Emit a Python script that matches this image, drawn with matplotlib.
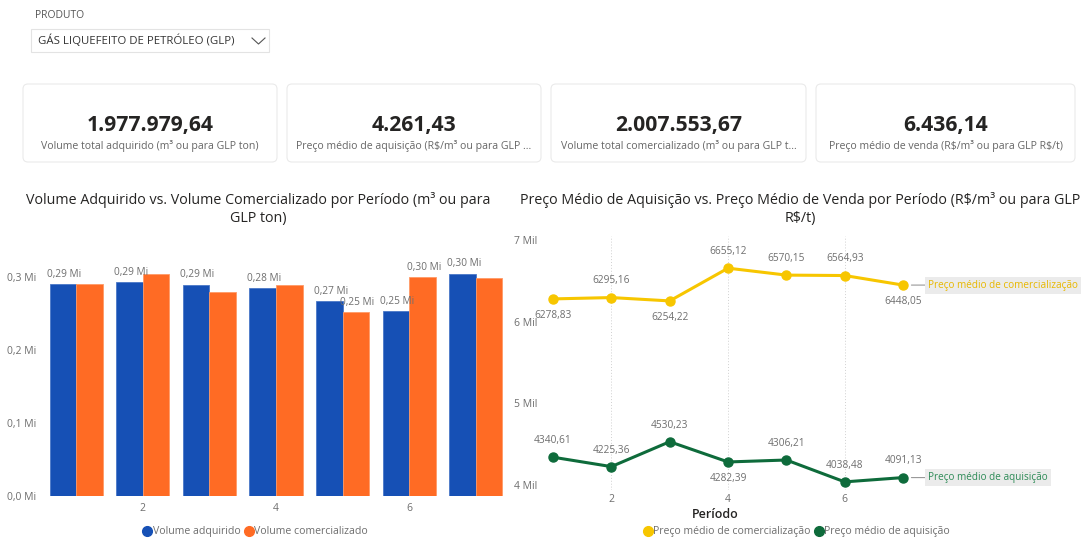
import matplotlib
matplotlib.use("Agg")
import matplotlib.pyplot as plt
from matplotlib.patches import FancyBboxPatch
from matplotlib.lines import Line2D

plt.rcParams['font.family'] = ['Open Sans', 'DejaVu Sans']
plt.rcParams['text.parse_math'] = False

# ---- dados ----
periodos = [1, 2, 3, 4, 5, 6, 7]
vol_adquirido = [0.290, 0.292, 0.289, 0.284, 0.267, 0.253, 0.304]
vol_comercializado = [0.290, 0.303, 0.279, 0.289, 0.251, 0.299, 0.298]
rotulo_adq = [True, True, True, True, True, True, True]
rotulo_com = [False, False, False, False, True, True, False]

preco_venda = [6278.83, 6295.16, 6254.22, 6655.12, 6570.15, 6564.93, 6448.05]
preco_aquisicao = [4340.61, 4225.36, 4530.23, 4282.39, 4306.21, 4038.48, 4091.13]
venda_acima = [False, True, False, True, True, True, False]
aquisicao_acima = [True, True, True, False, True, True, True]

kpi_valores = ['1.977.979,64', '4.261,43', '2.007.553,67', '6.436,14']
kpi_nomes = ['Volume total adquirido (m³ ou para GLP ton)',
             'Preço médio de aquisição (R$/m³ ou para GLP ...',
             'Volume total comercializado (m³ ou para GLP t...',
             'Preço médio de venda (R$/m³ ou para GLP R$/t)']

AZUL = '#1650B5'
LARANJA = '#FF6B24'
AMARELO = '#F7C600'
VERDE = '#0E6B3B'
CINZA = '#6E6E6E'
FS = 7.3

W, H = 1088, 542
fig = plt.figure(figsize=(W / 100, H / 100), dpi=100)
fig.patch.set_facecolor('white')


def ax_px(x0, y0, x1, y1):
    return fig.add_axes([x0 / W, 1 - y1 / H, (x1 - x0) / W, (y1 - y0) / H])


# fundo em pixels
bg = fig.add_axes([0, 0, 1, 1])
bg.set_xlim(0, W)
bg.set_ylim(H, 0)
bg.axis('off')

bg.text(35, 16, 'PRODUTO', fontsize=7.5, color='#555555', va='center')
bg.add_patch(FancyBboxPatch((31, 29), 238, 23, boxstyle='square,pad=0',
                            fc='white', ec='#E3E3E3', lw=0.8))
bg.text(38, 41, 'GÁS LIQUEFEITO DE PETRÓLEO (GLP)', fontsize=8.2, color='#333333', va='center')
bg.plot([252, 258.5, 265], [38, 44, 38], color='#555555', lw=0.8)

cards = [(23, 277), (287, 541), (551, 806), (816, 1075)]
for (x0, x1), val, nome in zip(cards, kpi_valores, kpi_nomes):
    bg.add_patch(FancyBboxPatch((x0, 84), x1 - x0, 78, boxstyle='round,pad=0,rounding_size=5',
                                fc='white', ec='#EAEAEA', lw=0.8))
    xc = (x0 + x1) / 2
    bg.text(xc, 125, val, fontsize=15.2, fontweight='bold', color='#252423', ha='center', va='center')
    bg.text(xc, 146, nome, fontsize=7.6, color='#666666', ha='center', va='center')

bg.text(258, 209, 'Volume Adquirido vs. Volume Comercializado por Período (m³ ou para\nGLP ton)',
        fontsize=10.3, color='#252423', ha='center', va='center', linespacing=1.2)
bg.text(800, 209, 'Preço Médio de Aquisição vs. Preço Médio de Venda por Período (R$/m³ ou para GLP\nR$/t)',
        fontsize=10.3, color='#252423', ha='center', va='center', linespacing=1.2)

# ---- barras ----
ax1 = ax_px(43, 240, 509, 496)
w = 0.4
x_a = [p - w / 2 for p in periodos]
x_c = [p + w / 2 for p in periodos]
ax1.bar(x_a, vol_adquirido, width=w, color=AZUL, ec='#4A78C8', lw=0.6, label='Volume adquirido')
ax1.bar(x_c, vol_comercializado, width=w, color=LARANJA, ec='#FF9A66', lw=0.6, label='Volume comercializado')
for xs, vs, flags in [(x_a, vol_adquirido, rotulo_adq), (x_c, vol_comercializado, rotulo_com)]:
    for x, v, f in zip(xs, vs, flags):
        if f:
            ax1.annotate(f'{v:.2f} Mi'.replace('.', ','), (x, v), xytext=(1, 3),
                         textcoords='offset points', ha='center', va='bottom',
                         fontsize=FS, color=CINZA)
ax1.set_xlim(0.5, 7.5)
ax1.set_ylim(0, 0.35)
ax1.set_yticks([0, 0.1, 0.2, 0.3])
ax1.set_yticklabels([f'{t:.1f} Mi'.replace('.', ',') for t in [0, 0.1, 0.2, 0.3]])
ax1.set_xticks([2, 4, 6])
ax1.tick_params(length=0, labelsize=7.5, labelcolor=CINZA, pad=5)
for s in ax1.spines.values():
    s.set_visible(False)
ax1.legend(handles=[Line2D([], [], marker='o', ls='', color=AZUL, ms=7),
                    Line2D([], [], marker='o', ls='', color=LARANJA, ms=7)],
           labels=['Volume adquirido', 'Volume comercializado'],
           loc='center', bbox_to_anchor=(0.455, -0.14), ncol=2, frameon=False,
           fontsize=7.6, labelcolor=CINZA, handletextpad=0.0, columnspacing=0.3,
           handlelength=1)

# ---- linhas ----
ax2 = ax_px(510, 236, 920, 490)
ax2.set_xlim(0.263, 7.29)
ax2.set_ylim(3939, 7049)
ax2.plot(periodos, preco_venda, color=AMARELO, lw=2.2, marker='o', ms=6.5)
ax2.plot(periodos, preco_aquisicao, color=VERDE, lw=2.2, marker='o', ms=6.5)
for vals, flags in [(preco_venda, venda_acima), (preco_aquisicao, aquisicao_acima)]:
    for p, v, f in zip(periodos, vals, flags):
        ax2.annotate(f'{v:.2f}'.replace('.', ','), (p, v), xytext=(0, 8 if f else -8),
                     textcoords='offset points', ha='center',
                     va='bottom' if f else 'top', fontsize=FS, color=CINZA)
for p in [2, 4, 6]:
    ax2.axvline(p, color='#D0D0D0', lw=0.7, ls=(0, (1, 2)), zorder=0)
ax2.set_yticks([4000, 5000, 6000, 7000])
ax2.set_yticklabels(['4 Mil', '5 Mil', '6 Mil', '7 Mil'])
ax2.set_xticks([2, 4, 6])
ax2.tick_params(length=0, labelsize=7.5, labelcolor=CINZA, pad=3)
ax2.tick_params(axis='y', direction='in', pad=-3)
for lab in ax2.get_yticklabels():
    lab.set_horizontalalignment('left')
for s in ax2.spines.values():
    s.set_visible(False)
ax2.set_xlabel('Período', fontsize=9, fontweight='semibold', color='#252423', labelpad=2)

for vals, nome, cor in [(preco_venda, 'Preço médio de comercialização', '#E8B800'),
                        (preco_aquisicao, 'Preço médio de aquisição', '#2E8B57')]:
    ax2.annotate(nome, (periodos[-1], vals[-1]), xytext=(18, 0), textcoords='offset points',
                 ha='left', va='center', fontsize=7.2, color=cor, annotation_clip=False,
                 bbox=dict(boxstyle='square,pad=0.3', fc='#EBEBEB', ec='none'),
                 arrowprops=dict(arrowstyle='-', color='#999999', lw=0.8, shrinkA=0,
                                 shrinkB=6))

ax2.legend(handles=[Line2D([], [], marker='o', ls='', color=AMARELO, ms=7),
                    Line2D([], [], marker='o', ls='', color=VERDE, ms=7)],
           labels=['Preço médio de comercialização', 'Preço médio de aquisição'],
           loc='center', bbox_to_anchor=(0.698, -0.165), ncol=2, frameon=False,
           fontsize=7.6, labelcolor=CINZA, handletextpad=0.0, columnspacing=0.3,
           handlelength=1)

fig.savefig('out.png', dpi=100)
